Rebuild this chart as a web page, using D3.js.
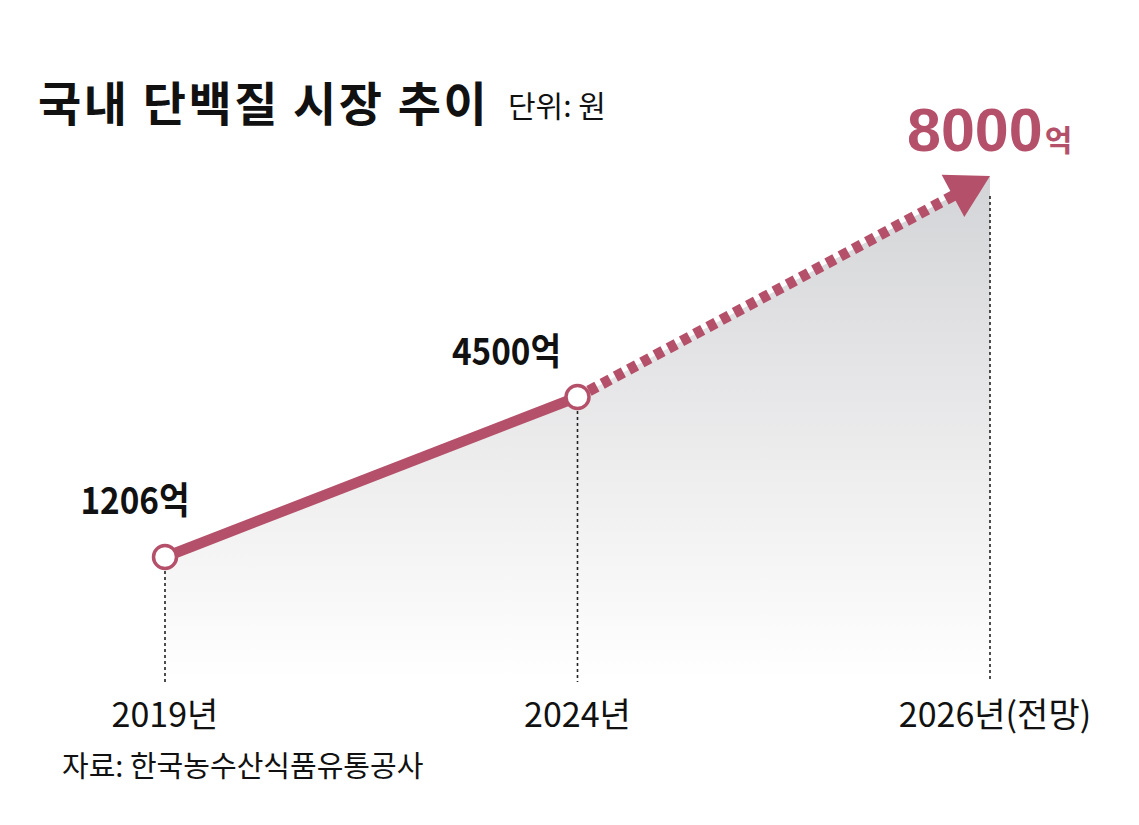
<!DOCTYPE html>
<html>
<head>
<meta charset="utf-8">
<script src="https://cdn.jsdelivr.net/npm/d3@7"></script>
<style>
  html, body { margin: 0; padding: 0; background: #fff; }
  svg { display: block; }
  .narrow { font-family: "Liberation Sans Narrow", "Noto Sans CJK KR", sans-serif; }
  .kr { font-family: "Noto Sans CJK KR", sans-serif; }
</style>
</head>
<body>
<script>
// chart data
const years = ["2019", "2024", "2026"];
const yearLabels = ["2019년", "2024년", "2026년(전망)"];
const values = [1206, 4500, 8000];
const valueLabels = ["1206억", "4500억", "8000억"];
const title = "국내 단백질 시장 추이";
const unit = "단위: 원";
const source = "자료: 한국농수산식품유통공사";

const width = 1139, height = 825;
const red = "#b5506a";
const baseY = 690;

const svg = d3.select("body").append("svg")
    .attr("width", width)
    .attr("height", height);

const x = d3.scalePoint().domain(years).range([165, 990]);
// the original artwork stretches the forecast step, so the scale is piecewise
const y = d3.scaleLinear().domain(values).range([557, 397, 176]);

const pts = years.map((yr, i) => ({ yr, v: values[i], px: x(yr), py: y(values[i]) }));

// gradient under the line
const defs = svg.append("defs");
const grad = defs.append("linearGradient")
    .attr("id", "fade")
    .attr("gradientUnits", "userSpaceOnUse")
    .attr("x1", 0).attr("y1", y(8000))
    .attr("x2", 0).attr("y2", 680);
grad.append("stop").attr("offset", "0%").attr("stop-color", "#d3d4d7");
grad.append("stop").attr("offset", "55%").attr("stop-color", "#ececed");
grad.append("stop").attr("offset", "100%").attr("stop-color", "#ffffff");

const area = d3.area()
    .x(d => d.px)
    .y0(baseY)
    .y1(d => d.py);

svg.append("path")
    .datum(pts)
    .attr("d", area)
    .attr("fill", "url(#fade)");

// dotted drop lines
svg.selectAll(".drop").data(pts)
  .enter().append("line")
    .attr("class", "drop")
    .attr("x1", d => d.px).attr("x2", d => d.px)
    .attr("y1", (d, i) => i === 2 ? d.py + 20 : d.py + 14)
    .attr("y2", 682)
    .attr("stroke", "#222")
    .attr("stroke-width", 1.6)
    .attr("stroke-dasharray", "3,3");

// solid segment
const line = d3.line().x(d => d.px).y(d => d.py);
svg.append("path")
    .datum(pts.slice(0, 2))
    .attr("d", line)
    .attr("fill", "none")
    .attr("stroke", red)
    .attr("stroke-width", 10.5);

// forecast: dashed segment + arrowhead
const p1 = pts[1], p2 = pts[2];
const ang = Math.atan2(p2.py - p1.py, p2.px - p1.px);
const headLen = 42, headHalf = 24;
const bx = p2.px - headLen * Math.cos(ang), by = p2.py - headLen * Math.sin(ang);

svg.append("path")
    .datum([p1, { px: bx + 4 * Math.cos(ang), py: by + 4 * Math.sin(ang) }])
    .attr("d", line)
    .attr("fill", "none")
    .attr("stroke", red)
    .attr("stroke-width", 11)
    .attr("stroke-dasharray", "9,6")
    .attr("stroke-dashoffset", -13);

const nx = -Math.sin(ang), ny = Math.cos(ang);
svg.append("path")
    .attr("d", d3.line()([
      [p2.px, p2.py],
      [bx + nx * headHalf, by + ny * headHalf],
      [bx - nx * headHalf, by - ny * headHalf]
    ]) + "Z")
    .attr("fill", red);

// point markers
svg.selectAll(".dot").data(pts.slice(0, 2))
  .enter().append("circle")
    .attr("class", "dot")
    .attr("cx", d => d.px).attr("cy", d => d.py)
    .attr("r", 11.5)
    .attr("fill", "#fff")
    .attr("stroke", red)
    .attr("stroke-width", 3.5);

// value labels (slightly condensed, like the original lettering)
const labelDx = [-30, -71];
svg.selectAll(".vlab").data(pts.slice(0, 2))
  .enter().append("text")
    .attr("class", "vlab narrow")
    .attr("transform", (d, i) =>
      `translate(${d.px + labelDx[i]},${d.py - (i === 0 ? 43 : 32)}) scale(0.9,1)`)
    .attr("text-anchor", "middle")
    .attr("font-size", 37)
    .attr("font-weight", "bold")
    .attr("fill", "#111")
    .text((d, i) => valueLabels[i]);

const big = svg.append("text")
    .attr("x", 907).attr("y", 151)
    .attr("fill", red)
    .attr("font-weight", "bold");
big.append("tspan")
    .attr("font-family", "'Liberation Sans', Arial, sans-serif")
    .attr("font-size", 61)
    .text(valueLabels[2].replace("억", ""));
big.append("tspan")
    .attr("class", "kr")
    .attr("font-size", 30)
    .attr("dx", 2)
    .text("억");

// x labels
svg.selectAll(".xlab").data(pts)
  .enter().append("text")
    .attr("class", "xlab narrow")
    .attr("x", (d, i) => d.px + (i === 2 ? 5 : 0))
    .attr("y", 727)
    .attr("text-anchor", "middle")
    .attr("font-size", 34)
    .attr("fill", "#111")
    .text((d, i) => yearLabels[i]);

// title, unit, source
svg.append("text")
    .attr("class", "kr")
    .attr("x", 38).attr("y", 121)
    .attr("font-size", 47)
    .attr("font-weight", "bold")
    .attr("letter-spacing", 2.5)
    .attr("fill", "#111")
    .text(title);

svg.append("text")
    .attr("class", "kr")
    .attr("x", 508).attr("y", 117)
    .attr("font-size", 30)
    .attr("fill", "#111")
    .text(unit);

svg.append("text")
    .attr("class", "kr")
    .attr("x", 62).attr("y", 777)
    .attr("font-size", 29)
    .attr("fill", "#111")
    .text(source);
</script>
</body>
</html>
